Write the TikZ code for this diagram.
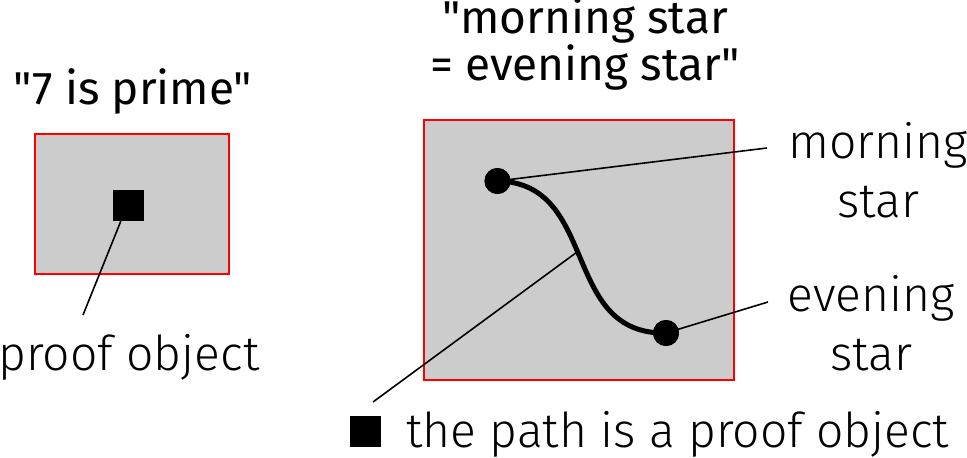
\documentclass[tikz,border=0pt]{standalone}
\usepackage{fontspec}
\setmainfont{Fira Sans}[Ligatures=TeXOff]
\newfontfamily\lightfont{Fira Sans Light}[Ligatures=TeXOff]
\begin{document}
\begin{tikzpicture}[x=1pt,y=-1pt,
  box/.style={draw=red,line width=2.8pt,fill=black!20},
  pointer/.style={line width=1.6pt},
  dot/.style={circle,fill=black,inner sep=0pt,minimum size=26pt},
  sq/.style={rectangle,fill=black,inner sep=0pt,minimum size=31pt},
  title/.style={font=\fontsize{46}{45}\selectfont,align=center,inner sep=0pt,anchor=base},
  label/.style={font=\lightfont\fontsize{48}{59}\selectfont,align=center,inner sep=0pt,anchor=base}]
\useasboundingbox (0,0) rectangle (967,458);
% left
\node[title] (t1) at (133,104) {"7 is prime"};
\draw[box] (35,134) rectangle (229,274);
\node[sq] (p1) at (128.5,205.5) {};
\coordinate (p1end) at (83,315);
\draw[pointer] (p1.south west) ++(8,0) coordinate (p1foot) -- (p1end);
\node[label] (l1) at (129,370) {proof object};
% right
\node[title] (t2) at (585,80) {"morning star\\= evening star"};
\draw[box] (424,120) rectangle (734,380);
\node[dot] (ms) at (497.5,181) {};
\node[dot] (es) at (666,333) {};
\coordinate (msend) at (767,148);
\coordinate (esend) at (768,302);
\coordinate (pend) at (373,402);
\draw[pointer] (ms.center) -- (msend);
\draw[pointer] (es.center) -- (esend);
\draw[line width=5pt] (ms.center) .. controls (600,183) and (560,335) .. coordinate[pos=0.47] (mid) (es.center);
\draw[pointer] (mid) -- (pend);
\node[dot] at (ms) {};
\node[dot] at (es) {};
\node[label] (lm) at (878,217) {morning\\star};
\node[label] (le) at (871,370) {evening\\star};
\node[sq] (p2) at (365.5,431.5) {};
\node[label,anchor=base west] (l2) at (406,447) {the path is a proof object};
\end{tikzpicture}
\end{document}
